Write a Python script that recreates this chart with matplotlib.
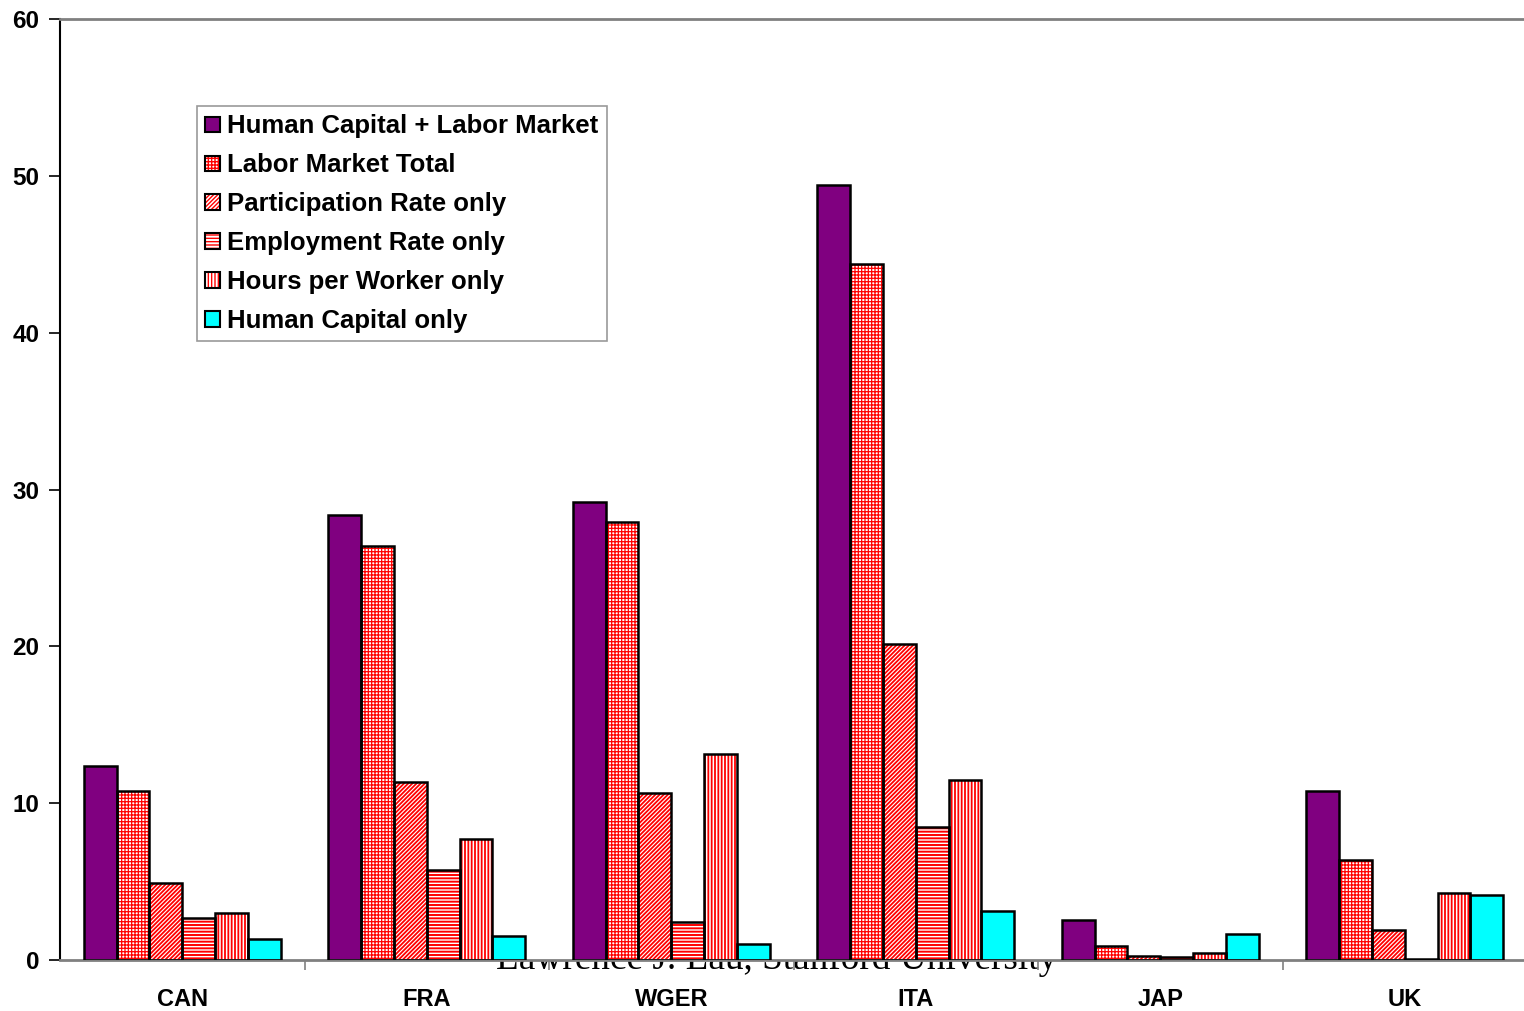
import matplotlib.pyplot as plt
from matplotlib.patches import Patch
from matplotlib.legend_handler import HandlerTuple
import numpy as np

plt.rcParams['font.family'] = ['Liberation Sans', 'DejaVu Sans']

countries = ['CAN', 'FRA', 'WGER', 'ITA', 'JAP', 'UK']
series_names = ['Human Capital + Labor Market', 'Labor Market Total', 'Participation Rate only',
                'Employment Rate only', 'Hours per Worker only', 'Human Capital only']

hc_labor = [12.4, 28.4, 29.2, 49.4, 2.55, 10.8]
labor_total = [10.8, 26.4, 27.9, 44.4, 0.9, 6.4]
participation = [4.9, 11.35, 10.65, 20.15, 0.25, 1.9]
employment = [2.7, 5.75, 2.4, 8.5, 0.2, 0.05]
hours = [3.0, 7.7, 13.15, 11.5, 0.45, 4.25]
human_capital = [1.35, 1.5, 1.0, 3.1, 1.65, 4.15]

all_series = [hc_labor, labor_total, participation, employment, hours, human_capital]

# fill colour, hatch colour, hatch pattern, hatch line width
styles = [
    ('#800080', '#800080', None, 1.0),
    ('white', 'red', '+++++', 0.9),
    ('white', 'red', '////////', 1.3),
    ('white', 'red', '-----', 1.4),
    ('white', 'red', '|||||', 1.3),
    ('#00FFFF', '#00FFFF', None, 1.0),
]

fig = plt.figure(figsize=(15.24, 10.11), dpi=100)
ax = fig.add_axes([60 / 1524, 1 - 960 / 1011, 1467 / 1524, 941 / 1011])
ax.set_zorder(1)
ax.set_facecolor('white')

x = np.arange(len(countries))
width = 0.134
handles = []
for i, values in enumerate(all_series):
    face, hatch_col, hatch, hlw = styles[i]
    plt.rcParams['hatch.linewidth'] = hlw
    pos = x + (i - 2.5) * width
    ax.bar(pos, values, width, color=face, edgecolor=hatch_col, hatch=hatch, linewidth=0, zorder=2)
    ax.bar(pos, values, width, color='none', edgecolor='black', linewidth=1.8, zorder=3)
    # legend swatch: hatched fill with a black outline laid over it
    fill = Patch(facecolor=face, edgecolor=hatch_col, hatch=hatch, linewidth=0)
    outline = Patch(facecolor='none', edgecolor='black', linewidth=1.5)
    handles.append((fill, outline))

ax.set_xlim(-0.5, 5.5)
ax.set_ylim(0, 60)
ax.set_yticks(range(0, 61, 10))
ax.set_xticks(x)
ax.set_xticklabels(countries, fontsize=17, fontweight='bold')
ax.set_xticks(np.arange(0.5, 5.5, 1), minor=True)
ax.tick_params(axis='x', which='major', length=0, pad=20)
ax.tick_params(axis='x', which='minor', length=7, color='#808080', width=1.2, direction='out')
ax.tick_params(axis='y', length=8, width=1.2, labelsize=17.5, pad=7)
for lab in ax.get_yticklabels():
    lab.set_fontweight('bold')

ax.spines['right'].set_visible(False)
ax.spines['top'].set_color('#808080')
ax.spines['top'].set_linewidth(2)
ax.spines['bottom'].set_color('#808080')
ax.spines['bottom'].set_linewidth(2)
ax.spines['left'].set_linewidth(1.5)

leg = ax.legend(handles=handles, labels=series_names, handler_map={tuple: HandlerTuple(ndivide=1)},
                loc='upper left', bbox_to_anchor=(137 / 1467, 1 - 87 / 941),
                prop={'size': 18.5, 'weight': 'bold'}, frameon=True, fancybox=False,
                handlelength=0.55, handleheight=0.55, handletextpad=0.3,
                labelspacing=0.58, borderpad=0.33, borderaxespad=0)
leg.get_frame().set_edgecolor('#808080')
leg.get_frame().set_linewidth(1.2)

# watermark sits behind the plot area
fig.text(777 / 1524, 1 - 969 / 1011, 'Lawrence J. Lau, Stanford University', ha='center',
         va='baseline', fontsize=26.8, family='Liberation Serif', zorder=0)

fig.savefig('out.png', dpi=100)
